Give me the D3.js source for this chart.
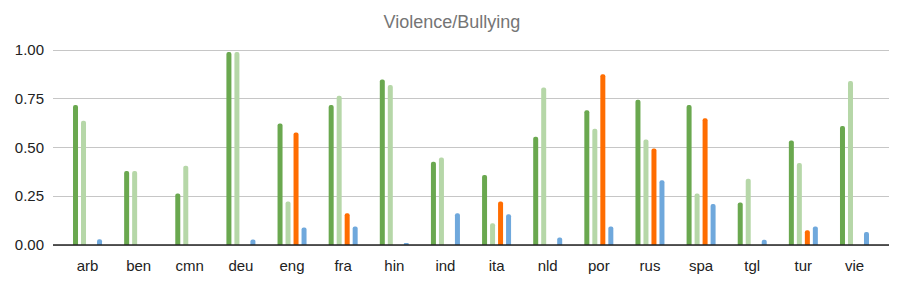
<!DOCTYPE html>
<html>
<head>
<meta charset="utf-8">
<script src="https://cdn.jsdelivr.net/npm/d3@7"></script>
<style>
  body { margin: 0; background: #fff; }
  text { font-family: "Liberation Sans", Arial, sans-serif; }
</style>
</head>
<body>
<div id="chart"></div>
<script>
  let categories = ['arb', 'ben', 'cmn', 'deu', 'eng', 'fra', 'hin', 'ind', 'ita', 'nld', 'por', 'rus', 'spa', 'tgl', 'tur', 'vie']
  let seriesNames = ['s1', 's2', 's3', 's4']
  let s1 = [0.716, 0.378, 0.263, 0.987, 0.622, 0.716, 0.846, 0.426, 0.358, 0.554, 0.689, 0.743, 0.716, 0.217, 0.535, 0.609]
  let s2 = [0.636, 0.378, 0.406, 0.987, 0.223, 0.764, 0.818, 0.448, 0.111, 0.805, 0.595, 0.540, 0.264, 0.339, 0.419, 0.839]
  let s3 = [0, 0, 0, 0, 0.575, 0.162, 0, 0, 0.223, 0, 0.873, 0.494, 0.648, 0, 0.075, 0]
  let s4 = [0.029, 0, 0, 0.028, 0.089, 0.095, 0.010, 0.162, 0.157, 0.039, 0.094, 0.331, 0.210, 0.027, 0.094, 0.066]
  let yTicks = [0, 0.25, 0.5, 0.75, 1]
  let colors = ['#6aa84f', '#b6d7a8', '#ff6d01', '#6fa8dc']
  let title = 'Violence/Bullying'

  let width = 904, height = 284
  let series = [s1, s2, s3, s4]

  let svg = d3.select('#chart')
              .append('svg')
              .attr('width', width)
              .attr('height', height)

  let x  = d3.scaleBand().domain(categories).range([53, 889]).paddingInner(0).paddingOuter(0.175)
  let xs = d3.scaleBand().domain(seriesNames).range([-16, 16]).paddingInner(0.375).paddingOuter(0.1875)
  let y  = d3.scaleLinear().domain([0, 1]).range([245, 49.5])

  // title
  svg.append('text')
    .attr('x', 452)
    .attr('y', 28)
    .attr('text-anchor', 'middle')
    .attr('font-size', 18)
    .attr('fill', '#757575')
    .text(title)

  // gridlines + y labels
  let yAxis = svg.append('g')
    .attr('transform', 'translate(53,0)')
    .call(d3.axisLeft(y).tickValues(yTicks).tickFormat(d3.format('.2f')).tickSize(-836).tickPadding(9))
  yAxis.select('.domain').remove()
  yAxis.selectAll('line').attr('stroke', '#c6c6c6').attr('shape-rendering', 'crispEdges')
  yAxis.selectAll('text').attr('font-size', 15).attr('fill', '#222').attr('font-family', '"Liberation Sans", Arial, sans-serif')

  // bars
  function barPath(x0, w, yTop, yBase) {
    let r = Math.min(2, (yBase - yTop) / 2, w / 2)
    return 'M' + x0 + ',' + yBase +
      'V' + (yTop + r) +
      'Q' + x0 + ',' + yTop + ' ' + (x0 + r) + ',' + yTop +
      'H' + (x0 + w - r) +
      'Q' + (x0 + w) + ',' + yTop + ' ' + (x0 + w) + ',' + (yTop + r) +
      'V' + yBase + 'Z'
  }

  let bars = []
  categories.forEach(function(c, i) {
    series.forEach(function(s, j) {
      if (s[i] > 0) bars.push({ cat: c, key: seriesNames[j], v: s[i], color: colors[j] })
    })
  })

  svg.append('g').selectAll('path').data(bars)
    .enter().append('path')
      .attr('fill', function(d) { return d.color })
      .attr('d', function(d) {
        let cx = x(d.cat) + x.bandwidth() / 2
        return barPath(cx + xs(d.key), xs.bandwidth(), y(d.v), y(0)) })

  // baseline + x labels
  let xAxis = svg.append('g')
    .attr('transform', 'translate(0,' + y(0) + ')')
    .call(d3.axisBottom(x).tickSize(0).tickPadding(15))
  xAxis.select('.domain').attr('stroke', '#222').attr('stroke-width', 1.5).attr('d', 'M53,0H889')
  xAxis.selectAll('text').attr('font-size', 15).attr('fill', '#222').attr('font-family', '"Liberation Sans", Arial, sans-serif')
</script>
</body>
</html>
